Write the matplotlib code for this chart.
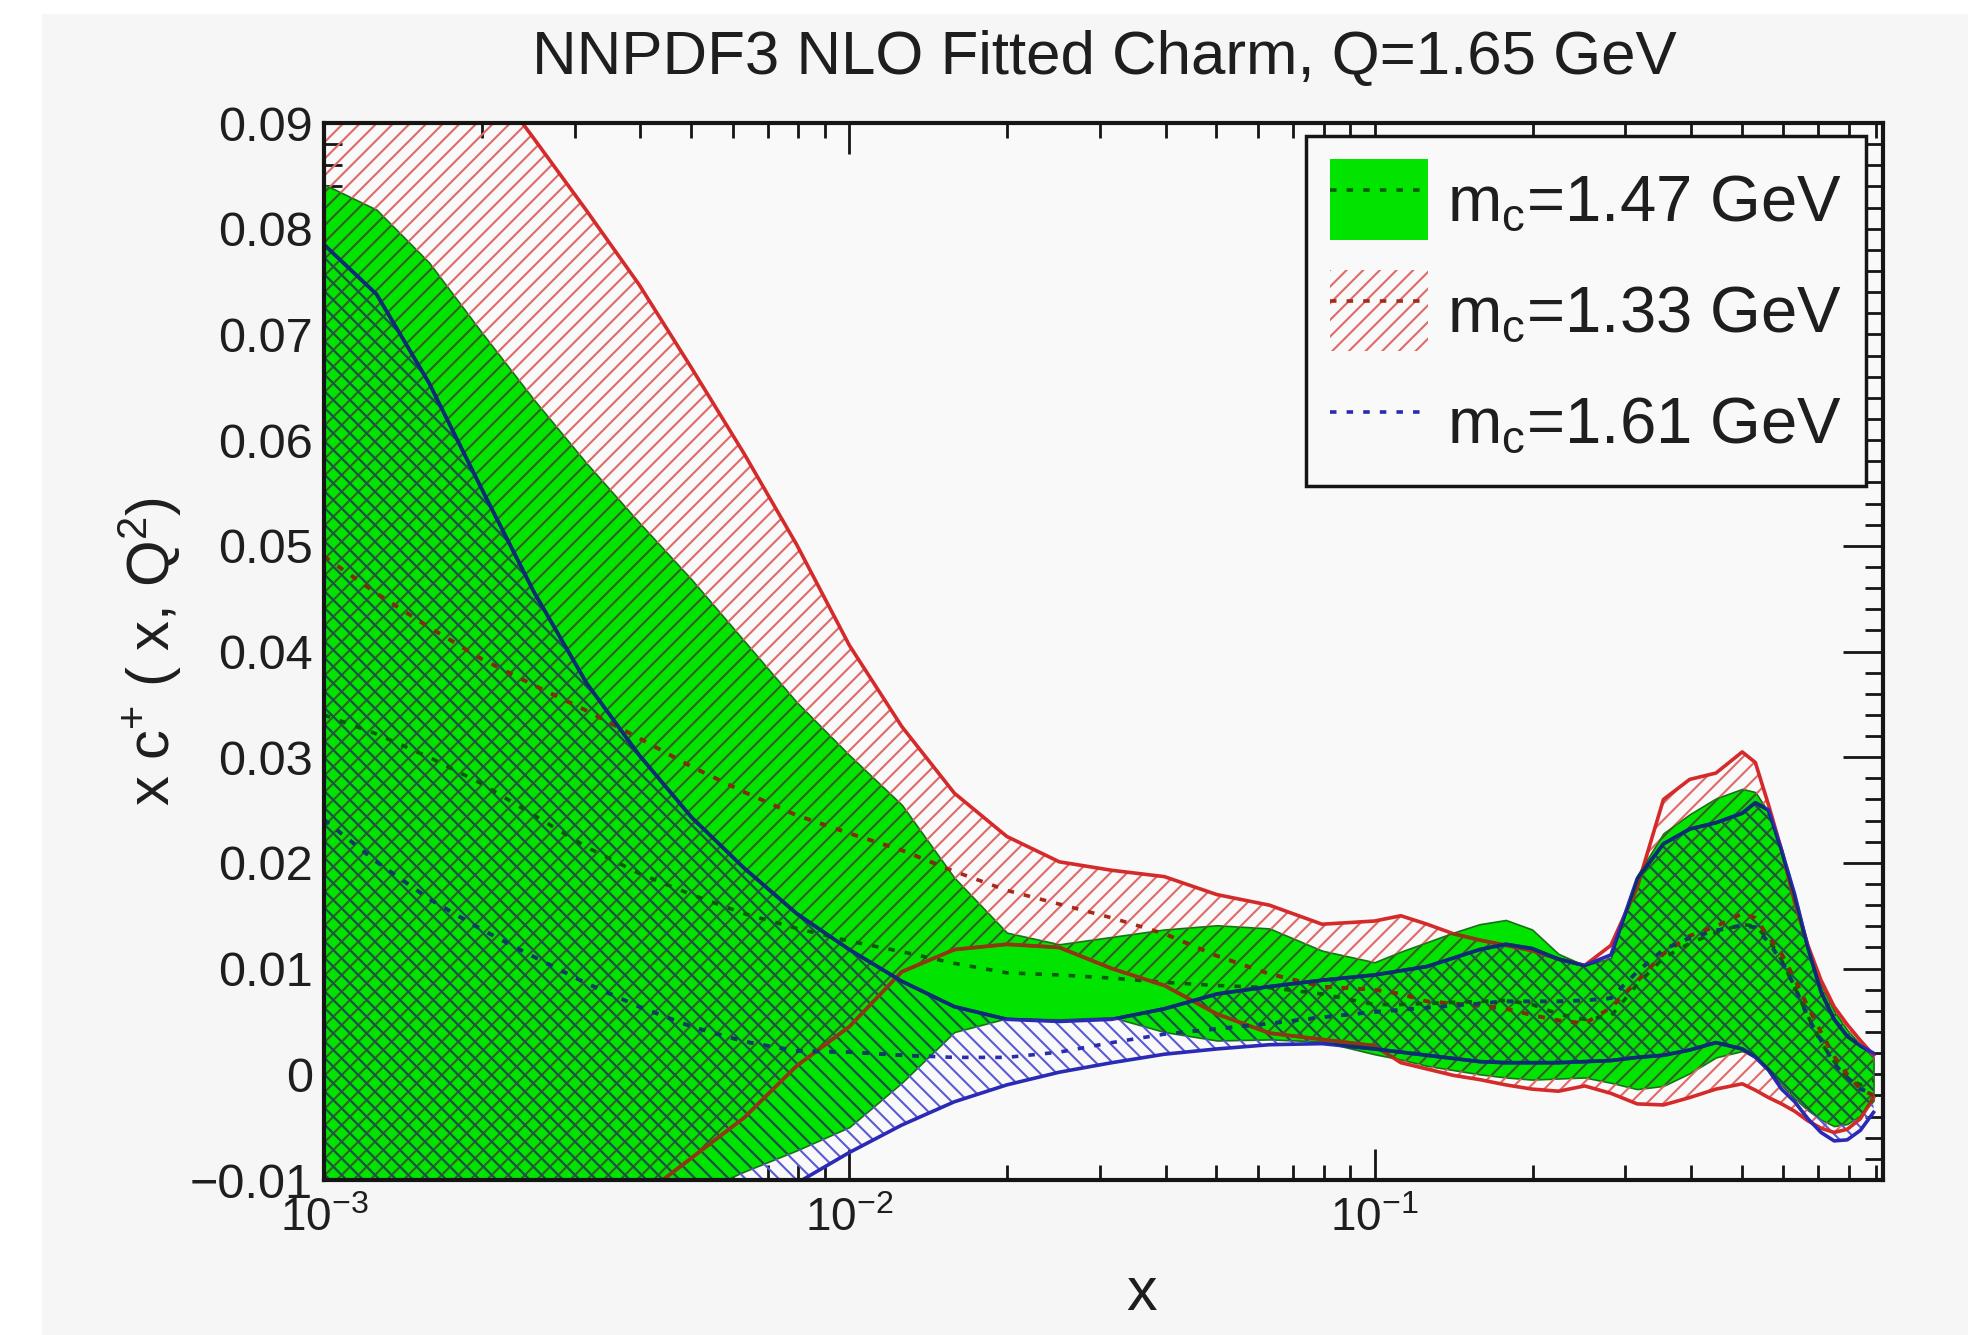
import numpy as np
import matplotlib
matplotlib.use("Agg")
import matplotlib.pyplot as plt
from matplotlib.patches import Patch, Rectangle
from matplotlib.lines import Line2D
from matplotlib.ticker import MultipleLocator, LogLocator, NullFormatter, FuncFormatter, FixedLocator, FixedFormatter

plt.rcParams['font.family'] = ['Liberation Sans', 'DejaVu Sans']
plt.rcParams['mathtext.fontset'] = 'custom'
plt.rcParams['mathtext.rm'] = 'Liberation Sans'
plt.rcParams['mathtext.it'] = 'Liberation Sans:italic'
plt.rcParams['mathtext.bf'] = 'Liberation Sans:bold'
plt.rcParams['mathtext.default'] = 'regular'
plt.rcParams['hatch.linewidth'] = 1.5

# ---------------- data ----------------
log_x = [-3.0, -2.9, -2.8, -2.7, -2.6, -2.5, -2.4, -2.3, -2.2, -2.1, -2.0,
         -1.9, -1.8, -1.7, -1.6, -1.5, -1.4, -1.3, -1.2, -1.1, -1.0,
         -0.95, -0.9, -0.85, -0.8, -0.75, -0.7, -0.65, -0.6, -0.55, -0.5,
         -0.45, -0.4, -0.35, -0.3,
         -0.275, -0.25, -0.225, -0.2, -0.175, -0.15, -0.125, -0.1, -0.075, -0.05]

# m_c = 1.47 GeV (green band)
g_hi = [0.0842, 0.0818, 0.0768, 0.0702, 0.0638, 0.0578, 0.0522, 0.0468, 0.0410, 0.0352, 0.0302,
        0.0255, 0.0186, 0.0134, 0.0123, 0.0130, 0.0137, 0.0141, 0.0138, 0.0117, 0.0106,
        0.0116, 0.0125, 0.0134, 0.0142, 0.0146, 0.0137, 0.0114, 0.0103, 0.0110, 0.0188,
        0.0228, 0.0246, 0.0261, 0.0270,
        0.0267, 0.0248, 0.0213, 0.0170, 0.0123, 0.0085, 0.0060, 0.0042, 0.0028, 0.0016]
g_lo = [-0.030, -0.027, -0.0245, -0.022, -0.0193, -0.0165, -0.0138, -0.0114, -0.0092, -0.0072, -0.0050,
        -0.0008, 0.0040, 0.0053, 0.0052, 0.0054, 0.0040, 0.0032, 0.0033, 0.0031, 0.0019,
        0.0014, 0.0008, 0.0004, 0.0000, -0.0003, -0.0005, -0.0004, -0.0003, -0.0008, -0.0014,
        -0.0011, 0.0001, 0.0016, 0.0022,
        0.0016, 0.0003, -0.0010, -0.0023, -0.0034, -0.0043, -0.0049, -0.0047, -0.0039, -0.0025]
g_c = [0.0340, 0.0322, 0.0300, 0.0275, 0.0245, 0.0215, 0.0190, 0.0170, 0.0152, 0.0138, 0.0126,
       0.0116, 0.0105, 0.0096, 0.0094, 0.0091, 0.0087, 0.0084, 0.0082, 0.0076, 0.0066,
       0.0066, 0.0067, 0.0068, 0.0069, 0.0070, 0.0066, 0.0057, 0.0052, 0.0055, 0.0085,
       0.0110, 0.0124, 0.0134, 0.0142,
       0.0140, 0.0128, 0.0108, 0.0082, 0.0055, 0.0030, 0.0012, -0.0003, -0.0010, -0.0006]

# m_c = 1.33 GeV (red hatched band)
r_hi = [0.116, 0.1095, 0.1023, 0.0952, 0.0885, 0.0817, 0.0747, 0.0668, 0.0587, 0.0501, 0.0406,
        0.0329, 0.0266, 0.0225, 0.0201, 0.0193, 0.0187, 0.0170, 0.0160, 0.0142, 0.0145,
        0.0150, 0.0142, 0.0133, 0.0127, 0.0122, 0.0117, 0.0109, 0.0103, 0.0122, 0.0177,
        0.0260, 0.0279, 0.0285, 0.0305,
        0.0295, 0.0255, 0.0212, 0.0163, 0.0122, 0.0089, 0.0064, 0.0047, 0.0032, 0.0018]
r_lo = [-0.036, -0.032, -0.028, -0.0235, -0.0195, -0.0155, -0.0117, -0.0079, -0.0041, 0.0008, 0.0045,
        0.0097, 0.0118, 0.0123, 0.0120, 0.0100, 0.0084, 0.0057, 0.0039, 0.0033, 0.0027,
        0.0011, 0.0005, -0.0001, -0.0005, -0.0010, -0.0014, -0.0016, -0.0011, -0.0018, -0.0028,
        -0.0029, -0.0022, -0.0014, -0.0009,
        -0.0015, -0.0022, -0.0028, -0.0035, -0.0044, -0.0051, -0.0055, -0.0052, -0.0042, -0.0022]
r_c = [0.0490, 0.0455, 0.0423, 0.0393, 0.0368, 0.0344, 0.0318, 0.0291, 0.0267, 0.0245, 0.0228,
       0.0212, 0.0192, 0.0174, 0.0161, 0.0148, 0.0133, 0.0112, 0.0095, 0.0083, 0.0080,
       0.0076, 0.0069, 0.0067, 0.0065, 0.0062, 0.0056, 0.0051, 0.0048, 0.0063, 0.0088,
       0.0114, 0.0131, 0.0140, 0.0152,
       0.0148, 0.0130, 0.0114, 0.0090, 0.0064, 0.0040, 0.0017, 0.0000, -0.0014, -0.0020]

# m_c = 1.61 GeV (blue hatched band)
b_hi = [0.0785, 0.0738, 0.0654, 0.0554, 0.0456, 0.0370, 0.0302, 0.0243, 0.0195, 0.0152, 0.0118,
        0.0088, 0.0064, 0.0052, 0.0050, 0.0052, 0.0062, 0.0076, 0.0083, 0.0089, 0.0094,
        0.0098, 0.0102, 0.0110, 0.0118, 0.0123, 0.0119, 0.0109, 0.0103, 0.0113, 0.0185,
        0.0218, 0.0232, 0.0238, 0.0247,
        0.0257, 0.0250, 0.0212, 0.0170, 0.0120, 0.0078, 0.0052, 0.0036, 0.0027, 0.0020]
b_lo = [-0.038, -0.035, -0.032, -0.029, -0.026, -0.023, -0.0200, -0.0168, -0.0135, -0.0103, -0.0074,
        -0.0048, -0.0026, -0.0010, 0.0002, 0.0011, 0.0019, 0.0024, 0.0028, 0.0029, 0.0024,
        0.0021, 0.0018, 0.0015, 0.0012, 0.0011, 0.0011, 0.0011, 0.0012, 0.0013, 0.0016,
        0.0018, 0.0023, 0.0030, 0.0024,
        0.0016, 0.0004, -0.0014, -0.0026, -0.0042, -0.0055, -0.0063, -0.0062, -0.0053, -0.0036]
b_c = [0.0241, 0.0201, 0.0166, 0.0137, 0.0111, 0.0086, 0.0064, 0.0045, 0.0031, 0.0022, 0.0021,
       0.0018, 0.0016, 0.0016, 0.0021, 0.0030, 0.0038, 0.0043, 0.0048, 0.0054, 0.0059,
       0.0061, 0.0063, 0.0065, 0.0067, 0.0069, 0.0069, 0.0069, 0.0070, 0.0072, 0.0097,
       0.0118, 0.0129, 0.0136, 0.0141,
       0.0139, 0.0125, 0.0107, 0.0083, 0.0054, 0.0032, 0.0010, -0.0003, -0.0014, -0.0018]

labels = ['m$_{c}$=1.47 GeV', 'm$_{c}$=1.33 GeV', 'm$_{c}$=1.61 GeV']
x_ticks = [1e-3, 1e-2, 1e-1]
x_tick_labels = ['$10^{-3}$', '$10^{-2}$', '$10^{-1}$']
title = 'NNPDF3 NLO Fitted Charm, Q=1.65 GeV'

x = 10 ** np.array(log_x)

# ---------------- styling ----------------
GREEN = '#00e400'
GREEN_EDGE = '#1c6e1c'
GREEN_DASH = '#0a5a0a'
RED_LINE = '#d42a2a'
RED_LINE_ON_G = '#8a3a12'
RED_DASH = '#a8281a'
RED_DASH_ON_G = '#7a3008'
RED_HATCH = '#e06a6a'
RED_HATCH_ON_G = '#167016'
BLUE_LINE = '#2a2ab5'
BLUE_LINE_ON_G = '#0b2f6e'
BLUE_DASH = '#2b2bb0'
BLUE_DASH_ON_G = '#0b3f5e'
BLUE_HATCH = '#5a5ad6'
BLUE_HATCH_ON_G = '#0f5a30'
TXT = '#1e1e1e'
DASH = (0, (1.8, 2.8))
LW = 2.6

fig = plt.figure(figsize=(19.68, 13.35), dpi=100, facecolor='#f6f6f6')
fig.patches.append(Rectangle((0, 0), 42 / 1968, 1, transform=fig.transFigure,
                             facecolor='white', edgecolor='none', zorder=-10))
fig.patches.append(Rectangle((0, 1 - 14 / 1335), 1, 14 / 1335, transform=fig.transFigure,
                             facecolor='white', edgecolor='none', zorder=-10))

ax = fig.add_axes([324 / 1968, 1 - 1180 / 1335, (1883 - 324) / 1968, (1180 - 123) / 1335])
ax.set_facecolor('#f9f9f9')
ax.set_xscale('log')
ax.set_xlim(1e-3, 0.929)
ax.set_ylim(-0.01, 0.09)
ax.set_axisbelow(True)

# green band
g = ax.fill_between(x, g_lo, g_hi, facecolor=GREEN, edgecolor=GREEN_EDGE, linewidth=1.2, zorder=1)
gpath = g.get_paths()[0]

def clip_green(artist):
    artist.set_clip_path(gpath, ax.transData)
    return artist

# red hatch
ax.fill_between(x, r_lo, r_hi, facecolor='none', edgecolor=RED_HATCH, hatch='//', linewidth=0, zorder=2)
clip_green(ax.fill_between(x, r_lo, r_hi, facecolor='none', edgecolor=RED_HATCH_ON_G, hatch='//',
                           linewidth=0, zorder=2.05))
# blue hatch
ax.fill_between(x, b_lo, b_hi, facecolor='none', edgecolor=BLUE_HATCH, hatch='\\\\', linewidth=0, zorder=2.1)
clip_green(ax.fill_between(x, b_lo, b_hi, facecolor='none', edgecolor=BLUE_HATCH_ON_G, hatch='\\\\',
                           linewidth=0, zorder=2.15))

# lines
def line(y, color, color_g, ls='-', z=3.0):
    ax.plot(x, y, color=color, lw=LW, ls=ls, zorder=z)
    l2, = ax.plot(x, y, color=color_g, lw=LW, ls=ls, zorder=z + 0.01)
    clip_green(l2)

ax.plot(x, g_c, color=GREEN_DASH, lw=LW, ls=DASH, zorder=3.0)
line(r_hi, RED_LINE, RED_LINE_ON_G, z=3.1)
line(r_lo, RED_LINE, RED_LINE_ON_G, z=3.1)
line(r_c, RED_DASH, RED_DASH_ON_G, ls=DASH, z=3.2)
line(b_hi, BLUE_LINE, BLUE_LINE_ON_G, z=3.3)
line(b_lo, BLUE_LINE, BLUE_LINE_ON_G, z=3.3)
line(b_c, BLUE_DASH, BLUE_DASH_ON_G, ls=DASH, z=3.4)

# axes / ticks
for s in ax.spines.values():
    s.set_linewidth(3.0)
    s.set_color('#151515')
    s.set_zorder(10)

ax.xaxis.set_major_locator(FixedLocator(x_ticks))
ax.xaxis.set_major_formatter(FixedFormatter(x_tick_labels))
ax.xaxis.set_minor_locator(LogLocator(base=10, subs=np.arange(2, 10)))
ax.xaxis.set_minor_formatter(NullFormatter())
ax.yaxis.set_major_locator(MultipleLocator(0.01))
ax.yaxis.set_minor_locator(MultipleLocator(0.002))

def yfmt(v, pos):
    if abs(v) < 1e-9:
        return '0'
    s = '%.2f' % abs(v)
    return ('\u2212' + s) if v < 0 else s

ax.yaxis.set_major_formatter(FuncFormatter(yfmt))

ax.tick_params(which='both', direction='in', top=True, right=True, color='#151515')
ax.tick_params(axis='x', which='major', length=22, width=2.0, labelsize=33, pad=12, labelcolor=TXT)
ax.tick_params(axis='x', which='minor', length=11, width=2.0)
ax.tick_params(axis='y', which='major', length=29, width=2.0, labelsize=35, pad=8, labelcolor=TXT)
ax.tick_params(axis='y', which='minor', length=13, width=2.0)

ax.set_ylabel('x c$^{+}$ ( x, Q$^{2}$)', fontsize=43, color=TXT)
ax.yaxis.set_label_coords(-0.09, 0.5)

fig.text(1142 / 1968, 1 - 1295 / 1335, 'x', ha='center', va='center', fontsize=44, color=TXT)
fig.text(1104 / 1968, 1 - 58 / 1335, title, ha='center', va='center', fontsize=44.5, color=TXT)

# legend
h1 = (Patch(facecolor=GREEN, edgecolor='none'),
      Line2D([], [], color=GREEN_DASH, lw=LW, ls=DASH))
h2 = (Patch(facecolor='none', edgecolor=RED_HATCH, hatch='//', linewidth=0),
      Line2D([], [], color=RED_DASH, lw=LW, ls=DASH))
h3 = Line2D([], [], color=BLUE_DASH, lw=LW, ls=DASH)
leg = ax.legend([h1, h2, h3], labels, loc='upper right', bbox_to_anchor=(0.989, 0.988),
                borderaxespad=0, fontsize=47, frameon=True, fancybox=False,
                edgecolor='#151515', facecolor='#f9f9f9', framealpha=1,
                handlelength=1.5, handleheight=1.52, handletextpad=0.3,
                labelspacing=0.47, borderpad=0.36)
leg.get_frame().set_linewidth(2.5)
leg.set_zorder(20)
for t in leg.get_texts():
    t.set_color(TXT)

fig.savefig('out.png', dpi=100, facecolor=fig.get_facecolor())
